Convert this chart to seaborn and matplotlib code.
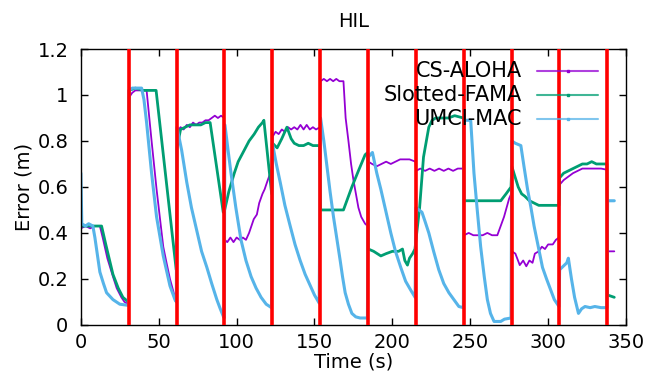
import numpy as np
import pandas as pd
import matplotlib
matplotlib.use("Agg")
import matplotlib.pyplot as plt
import seaborn as sns
from matplotlib.lines import Line2D

# 数据
protocols = ["CS-ALOHA", "Slotted-FAMA", "UMCI-MAC"]
colors = ["#9400D3", "#009E73", "#56B4E9"]

events = [30.8, 61.5, 92.2, 123.0, 153.7, 184.4, 215.0, 245.8, 276.5, 307.2, 338.0]

aloha_t = [0, 3, 6, 9, 12.2, 14, 17, 20.6, 23, 26, 28, 30.5,
           31.0, 33, 35, 38, 42.2, 45.4, 48.6, 52.9, 55, 57.2, 60.4, 61.3,
           61.7, 64, 66, 68, 70, 72, 74, 76, 78, 80, 82, 84, 86, 88, 90, 92.0,
           92.4, 94, 96, 98, 100, 102, 104, 106, 108, 111, 113, 114.5, 116.6, 118, 120, 122.8,
           123.2, 125, 127, 129, 131, 133, 135, 137, 139, 141, 143, 145, 147, 149, 151, 153.5,
           153.9, 156, 158, 160, 162, 164, 166, 168.6, 170, 171.8, 173.5, 175, 178.2, 180, 182.5, 184.2,
           184.6, 187, 190, 193, 196, 199, 202, 205, 208, 211, 214.8,
           215.2, 218, 221, 224, 227, 230, 233, 236, 239, 242, 245.6,
           246.0, 249, 252, 255, 258, 261, 264, 267.4, 271.7, 275, 276.3,
           276.7, 279, 281.8, 284, 286, 288, 290, 291.5, 294, 296, 298, 300, 303, 305, 307.0,
           307.4, 310, 313, 316, 319, 322, 326, 330, 334, 337.8,
           338.2, 342.5]
aloha_err = [0.42, 0.43, 0.42, 0.43, 0.43, 0.38, 0.29, 0.21, 0.16, 0.12, 0.10, 0.09,
             0.99, 1.01, 1.02, 1.02, 1.02, 0.80, 0.59, 0.34, 0.27, 0.20, 0.12, 0.11,
             0.84, 0.86, 0.85, 0.87, 0.86, 0.88, 0.87, 0.88, 0.88, 0.89, 0.89, 0.90, 0.91, 0.90, 0.91, 0.90,
             0.37, 0.36, 0.38, 0.36, 0.38, 0.37, 0.38, 0.37, 0.40, 0.46, 0.48, 0.53, 0.57, 0.59, 0.63, 0.68,
             0.82, 0.84, 0.83, 0.85, 0.84, 0.86, 0.85, 0.86, 0.85, 0.87, 0.85, 0.87, 0.85, 0.86, 0.85, 0.86,
             1.06, 1.07, 1.06, 1.07, 1.06, 1.07, 1.06, 1.06, 0.90, 0.80, 0.70, 0.63, 0.51, 0.47, 0.44, 0.43,
             0.71, 0.70, 0.69, 0.70, 0.71, 0.70, 0.71, 0.72, 0.72, 0.72, 0.71,
             0.67, 0.68, 0.67, 0.68, 0.67, 0.68, 0.67, 0.68, 0.67, 0.68, 0.68,
             0.39, 0.40, 0.39, 0.39, 0.39, 0.40, 0.39, 0.39, 0.47, 0.55, 0.57,
             0.32, 0.31, 0.26, 0.28, 0.255, 0.28, 0.27, 0.31, 0.32, 0.34, 0.33, 0.35, 0.35, 0.37, 0.38,
             0.61, 0.63, 0.645, 0.66, 0.67, 0.68, 0.68, 0.68, 0.68, 0.675,
             0.32, 0.32]

fama_t = [0, 4, 8, 13.3, 16, 20.6, 24, 27, 30.5,
          31.0, 35, 40, 44, 48.3, 61.2,
          61.7, 64, 67, 70, 74, 77, 80, 83, 91.4,
          92.0, 95, 98.5, 101, 104.9, 108, 111.3, 114, 116.6, 117.5, 122.5,
          123.1, 126, 129, 132.3, 135, 137, 140, 143, 146, 149, 153.4,
          153.9, 158, 162, 165, 168.6, 174, 178.2, 182.5, 184.2,
          184.6, 188, 192.6, 196, 200, 204, 206.5, 208, 209.7, 211, 213, 214.5,
          216, 217.5, 220, 223.4, 225.5, 227.8, 232, 236, 240, 245.6,
          246.0, 250, 255, 260, 265, 269.6, 273, 276.2,
          276.7, 278.5, 280.8, 283, 285, 288, 291, 294, 297.5, 302, 307.0,
          307.4, 310, 313, 316, 319, 322, 325, 328, 331, 334, 337.8,
          338.2, 342.5]
fama_err = [0.43, 0.43, 0.43, 0.43, 0.35, 0.22, 0.16, 0.12, 0.10,
            1.02, 1.03, 1.02, 1.02, 1.02, 0.24,
            0.77, 0.85, 0.86, 0.87, 0.87, 0.87, 0.88, 0.88, 0.49,
            0.49, 0.58, 0.66, 0.71, 0.76, 0.80, 0.83, 0.86, 0.88, 0.89, 0.57,
            0.79, 0.77, 0.81, 0.86, 0.81, 0.79, 0.78, 0.78, 0.79, 0.78, 0.78,
            0.50, 0.50, 0.50, 0.50, 0.50, 0.60, 0.67, 0.74, 0.75,
            0.33, 0.32, 0.30, 0.31, 0.32, 0.32, 0.33, 0.28, 0.26, 0.29, 0.31, 0.33,
            0.42, 0.51, 0.73, 0.86, 0.89, 0.90, 0.90, 0.90, 0.91, 0.90,
            0.54, 0.54, 0.54, 0.54, 0.54, 0.54, 0.57, 0.60,
            0.69, 0.65, 0.60, 0.57, 0.56, 0.54, 0.53, 0.52, 0.52, 0.52, 0.52,
            0.64, 0.66, 0.67, 0.68, 0.69, 0.70, 0.70, 0.71, 0.70, 0.70, 0.70,
            0.13, 0.12]

umci_t = [0, 0.6, 3, 5, 7.7, 9, 10.5, 12.2, 14.5, 16.5, 20.6, 25, 30.5,
          30.9, 33, 36, 39, 40.5, 42.2, 45.4, 48.6, 52.9, 57.2, 60.4, 61.3,
          61.7, 64.7, 68, 71, 74.4, 77.5, 80.9, 84, 87.3, 89.5, 91.6, 92.0,
          92.5, 94.5, 96.4, 99.5, 102.8, 106, 109.3, 112.5, 115.7, 119, 122.4,
          123.0, 125.5, 128, 131, 134.4, 137.5, 140.8, 144, 147.3, 150, 153.0,
          153.9, 156, 158, 160, 162.2, 164.5, 166.5, 168, 169.7, 171.8, 174, 176.5, 179.3, 184.0,
          184.5, 187.2, 190, 192.6, 196, 199, 202, 205.4, 208.5, 211.9, 214.6,
          215.2, 219, 221, 223.4, 226.5, 229.8, 233, 236.3, 239.5, 242.7, 245.6,
          246.0, 250.3, 252.4, 254.5, 256.7, 259, 261, 263, 265.3, 269.6, 272, 276.2,
          276.7, 279, 282.5, 284.5, 286.8, 289, 291, 294, 296.4, 299, 301.8, 304, 307.0,
          307.4, 310.4, 312, 313, 315, 317, 319.5, 321.5, 323.7, 327, 330, 334, 337.8,
          338.2, 342.5]
umci_err = [0.66, 0.44, 0.43, 0.44, 0.43, 0.38, 0.31, 0.23, 0.18, 0.14, 0.11, 0.09, 0.085,
            1.02, 1.03, 1.03, 1.03, 0.98, 0.88, 0.66, 0.47, 0.30, 0.17, 0.11, 0.10,
            0.86, 0.76, 0.62, 0.51, 0.41, 0.32, 0.25, 0.18, 0.11, 0.07, 0.035, 0.03,
            0.87, 0.76, 0.66, 0.51, 0.37, 0.28, 0.21, 0.16, 0.12, 0.09, 0.075,
            0.79, 0.70, 0.62, 0.52, 0.43, 0.35, 0.28, 0.22, 0.17, 0.13, 0.095,
            0.90, 0.80, 0.69, 0.58, 0.47, 0.37, 0.28, 0.21, 0.14, 0.09, 0.05, 0.035, 0.03, 0.03,
            0.73, 0.75, 0.66, 0.59, 0.49, 0.40, 0.32, 0.25, 0.19, 0.15, 0.12,
            0.51, 0.49, 0.45, 0.40, 0.32, 0.24, 0.18, 0.14, 0.11, 0.08, 0.075,
            0.89, 0.89, 0.66, 0.50, 0.34, 0.21, 0.11, 0.05, 0.015, 0.015, 0.025, 0.03,
            0.80, 0.79, 0.78, 0.69, 0.59, 0.51, 0.43, 0.33, 0.25, 0.20, 0.15, 0.11, 0.08,
            0.24, 0.26, 0.27, 0.29, 0.20, 0.12, 0.05, 0.07, 0.08, 0.075, 0.08, 0.075, 0.075,
            0.54, 0.54]

xticks = [0, 50, 100, 150, 200, 250, 300, 350]
yticks = [0, 0.2, 0.4, 0.6, 0.8, 1.0, 1.2]
ytick_labels = ["0", "0.2", "0.4", "0.6", "0.8", "1", "1.2"]

df = pd.concat([
    pd.DataFrame({"time": aloha_t, "error": aloha_err, "protocol": protocols[0]}),
    pd.DataFrame({"time": fama_t, "error": fama_err, "protocol": protocols[1]}),
    pd.DataFrame({"time": umci_t, "error": umci_err, "protocol": protocols[2]}),
], ignore_index=True)

sns.set_style("ticks")
plt.rcParams["font.family"] = ["DejaVu Sans"]
plt.rcParams["text.color"] = "black"
plt.rcParams["axes.labelcolor"] = "black"
plt.rcParams["xtick.color"] = "black"
plt.rcParams["ytick.color"] = "black"

fig = plt.figure(figsize=(6.47, 3.8), dpi=100)
ax = fig.add_axes([0.125, 0.145, 0.8425, 0.726])

widths = [1.3, 2.0, 2.2]
for name, col, lw in zip(protocols, colors, widths):
    sub = df[df["protocol"] == name]
    sns.lineplot(data=sub, x="time", y="error", color=col, linewidth=lw,
                 estimator=None, sort=False, legend=False, ax=ax, zorder=2)

for ev in events:
    ax.axvline(ev, color="#FF0000", linewidth=2.6, zorder=3)

ax.set_xlim(0, 350)
ax.set_ylim(0, 1.2)
ax.set_xticks(xticks)
ax.set_xticklabels([str(x) for x in xticks])
ax.set_yticks(yticks)
ax.set_yticklabels(ytick_labels)
ax.tick_params(direction="in", top=True, right=True, labelsize=14, length=5, width=1)
ax.tick_params(axis="y", pad=9)
ax.tick_params(axis="x", pad=6)
for sp in ax.spines.values():
    sp.set_linewidth(1.0)
    sp.set_color("black")

ax.set_xlabel("Time (s)", fontsize=14, labelpad=0)
ax.set_ylabel("Error (m)", fontsize=14, labelpad=3)
ax.set_title("HIL", fontsize=14, pad=16)

# 图例：文字右对齐在左，线段在右（gnuplot 风格）
legend_y = [0.920, 0.833, 0.746]
for name, col, ly in zip(protocols, colors, legend_y):
    ax.text(0.809, ly, name, ha="right", va="center", fontsize=15,
            transform=ax.transAxes, zorder=5)
    ax.add_line(Line2D([0.837, 0.949], [ly, ly], color=col, linewidth=1.5,
                       alpha=0.75, transform=ax.transAxes, zorder=5))
    ax.add_line(Line2D([0.893], [ly], color=col, marker="s", markersize=2,
                       linestyle="none", transform=ax.transAxes, zorder=5))

plt.savefig("out.png", dpi=100)
plt.close()
